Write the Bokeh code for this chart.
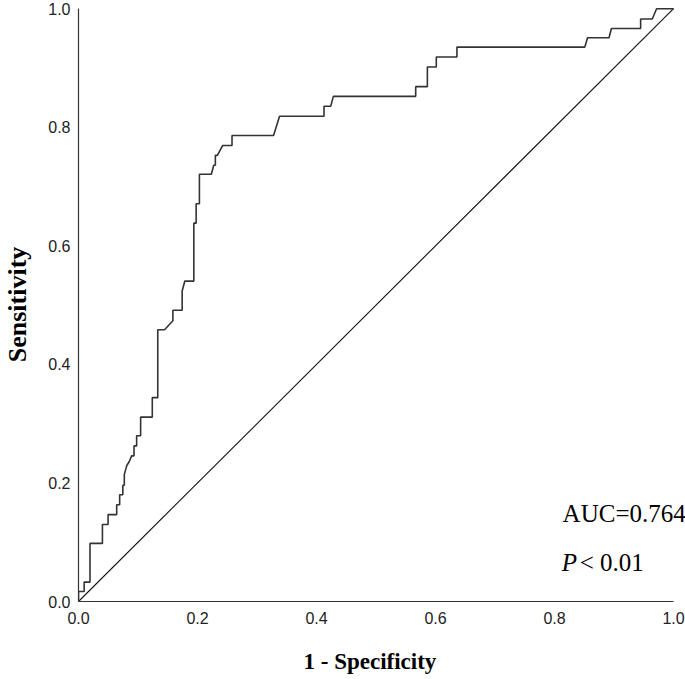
from bokeh.plotting import figure
from bokeh.models import Range1d, FixedTicker, NumeralTickFormatter, Label, Title
from bokeh.embed import file_html
from bokeh.resources import INLINE

# ROC curve vertices (1 - specificity, sensitivity)
fpr = [0.0, 0.0, 0.0095, 0.0095, 0.0193, 0.0193, 0.0402, 0.0402, 0.0497, 0.0497,
       0.0642, 0.0642, 0.0692, 0.0692, 0.0745, 0.0745, 0.077, 0.077, 0.0812, 0.0854,
       0.0893, 0.0933, 0.0933, 0.0977, 0.0977, 0.1044, 0.1044, 0.124, 0.124, 0.1332,
       0.1332, 0.1446, 0.1586, 0.1586, 0.1742, 0.1742, 0.1787, 0.1938, 0.1938, 0.1977,
       0.1977, 0.2032, 0.2032, 0.2233, 0.2273, 0.23, 0.23, 0.2333, 0.2424, 0.258,
       0.258, 0.3278, 0.3379, 0.4126, 0.4126, 0.4238, 0.4283, 0.5667, 0.5667, 0.5863,
       0.5863, 0.6013, 0.6013, 0.636, 0.636, 0.8509, 0.8555, 0.8916, 0.8956, 0.9447,
       0.9447, 0.9643, 0.9715, 1.0]
tpr = [0.0, 0.0168, 0.0168, 0.0327, 0.0327, 0.098, 0.098, 0.1298, 0.1298, 0.1466,
       0.1466, 0.1633, 0.1633, 0.1801, 0.1801, 0.196, 0.196, 0.2144, 0.2295, 0.2362,
       0.2457, 0.2457, 0.2625, 0.2625, 0.2797, 0.2797, 0.311, 0.311, 0.3439, 0.3439,
       0.4585, 0.4585, 0.4735, 0.4913, 0.4913, 0.5238, 0.5405, 0.5405, 0.6382, 0.6382,
       0.6709, 0.6709, 0.7208, 0.7208, 0.7358, 0.7358, 0.7526, 0.7526, 0.7693, 0.7693,
       0.7861, 0.7861, 0.8186, 0.8186, 0.8353, 0.8353, 0.8521, 0.8521, 0.8685, 0.8685,
       0.9017, 0.9017, 0.9184, 0.9184, 0.9352, 0.9352, 0.9509, 0.9509, 0.9665, 0.9665,
       0.9827, 0.9827, 1.0, 1.0]

ref_x = [0.0, 1.0]
ref_y = [0.0, 1.0]
ticks = [0.0, 0.2, 0.4, 0.6, 0.8, 1.0]
x_title = "1 - Specificity"
y_title = "Sensitivity"
auc_label = "AUC=0.764"
p_italic = "P"
p_rest = "< 0.01"
auc_pos = (0.8136, 0.1484)
p_pos = (0.812, 0.0658)

p = figure(width=685, height=679,
           x_range=Range1d(0, 1.0201), y_range=Range1d(0, 1.002),
           output_backend="svg", toolbar_location=None,
           min_border_left=76, min_border_right=0,
           min_border_top=7, min_border_bottom=78)
p.grid.visible = False
p.outline_line_color = None
p.background_fill_color = "white"
p.border_fill_color = "white"

p.line(ref_x, ref_y, line_color="#111111", line_width=1.1)
p.line(fpr, tpr, line_color="#333333", line_width=1.6)

for ax in (p.xaxis[0], p.yaxis[0]):
    ax.ticker = FixedTicker(ticks=ticks)
    ax.formatter = NumeralTickFormatter(format="0.0")
    ax.bounds = (0, 1)
    ax.major_tick_out = 0
    ax.major_tick_in = 0
    ax.minor_tick_out = 0
    ax.minor_tick_in = 0
    ax.axis_line_color = "#333333"
    ax.axis_line_width = 1.2
    ax.major_label_text_font = "Liberation Sans"
    ax.major_label_text_font_size = "16px"
    ax.major_label_text_color = "#222222"
    ax.axis_label_text_font = "Liberation Serif"
    ax.axis_label_text_font_style = "bold"
    ax.axis_label_text_color = "black"

p.yaxis.axis_label = y_title
p.xaxis.major_label_standoff = 10
p.yaxis.major_label_standoff = 8
p.yaxis.axis_label_text_font_size = "26px"
p.yaxis.axis_label_standoff = 13

# x-axis title centred under the 0..1 span of the axis
p.add_layout(Title(text=x_title, align="left", offset=225, standoff=4,
                   padding=(0, 0, 18, 0),
                   text_font="Liberation Serif", text_font_style="bold",
                   text_font_size="23px", text_color="black"), "below")

p.add_layout(Label(x=auc_pos[0], y=auc_pos[1], text=auc_label,
                   text_font="Liberation Serif", text_font_size="25px",
                   text_baseline="alphabetic", text_align="left", text_color="black"))
p.add_layout(Label(x=p_pos[0], y=p_pos[1], text=p_italic,
                   text_font="Liberation Serif", text_font_size="25px",
                   text_font_style="italic",
                   text_baseline="alphabetic", text_align="left", text_color="black"))
p.add_layout(Label(x=p_pos[0], y=p_pos[1], text=p_rest, x_offset=18,
                   text_font="Liberation Serif", text_font_size="25px",
                   text_baseline="alphabetic", text_align="left", text_color="black"))

open("out.html", "w").write(file_html(p, INLINE))
